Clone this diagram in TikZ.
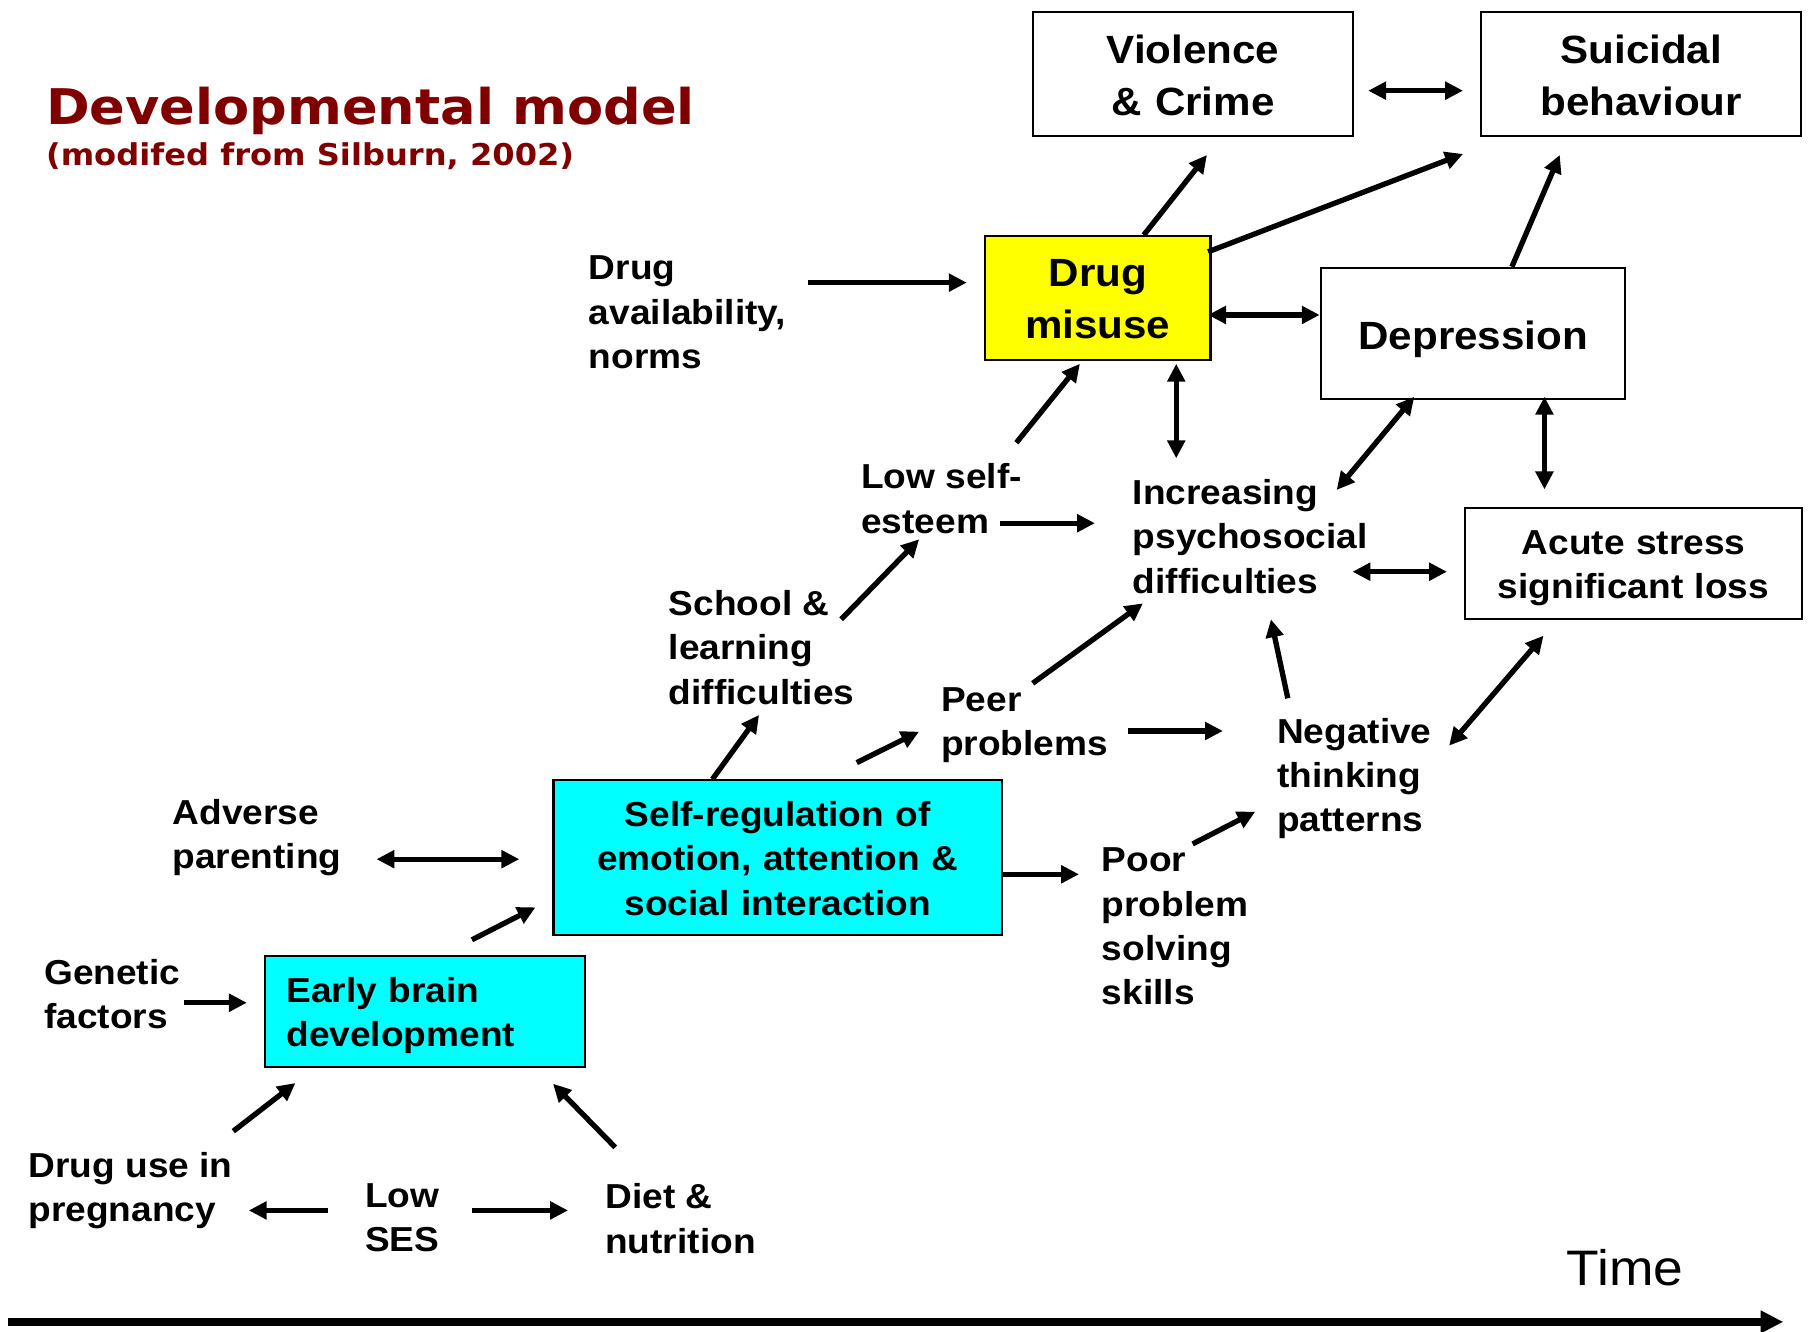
\documentclass[tikz,border=0pt]{standalone}
\usepackage{fontspec}
\usetikzlibrary{arrows.meta}

\newfontfamily\arialf{Liberation Sans}[FakeStretch=1.07]
\newfontfamily\verdf{DejaVu Sans}[FakeStretch=1.07]
\definecolor{titlered}{RGB}{128,0,0}
\definecolor{boxcyan}{RGB}{0,255,255}
\definecolor{boxyellow}{RGB}{255,255,0}

\newcommand\bodysize{\fontsize{30}{38.3}\selectfont}
\newcommand\bigsize{\fontsize{34.1}{45}\selectfont}
% invisible rules that fix the space above the first and below the last line of a box
\newcommand\boxtop[1]{\rule{0pt}{#1pt}}
\newcommand\boxbot[1]{\rule[-#1pt]{0pt}{0pt}}

\tikzset{
  lbl/.style={anchor=north west, inner sep=0pt, yshift=21.5pt, align=left,
    font=\arialf\bfseries\bodysize},
  framebox/.style={draw=black, line width=2pt, inner sep=0pt, anchor=north west, align=center},
  bigtext/.style={font=\arialf\bfseries\bigsize},
  smalltext/.style={font=\arialf\bfseries\bodysize},
  conn/.style={line width=4.6pt, -{Triangle[length=15.5pt,width=15pt]}},
  dconn/.style={line width=4.6pt, {Triangle[length=15.5pt,width=15pt]}-{Triangle[length=15.5pt,width=15pt]}},
}

\begin{document}
\begin{tikzpicture}[x=1pt,y=-1pt]
\useasboundingbox (0,0) rectangle (1568,1153);

% heading
\node[anchor=base west, inner sep=0pt, text=titlered,
  font=\verdf\bfseries\fontsize{42.6}{50}\selectfont] (title) at (39.7,107.4) {Developmental model};
\node[anchor=base west, inner sep=0pt, text=titlered,
  font=\verdf\bfseries\fontsize{26}{30}\selectfont] (subtitle) at (39.7,143.7) {(modifed from Silburn, 2002)};

% framed outcomes
\node[framebox, bigtext, text width=276.9pt] (viol) at (893.5,9.2)
  {\boxtop{45.1}Violence\\\& Crime\boxbot{17.6}};
\node[framebox, bigtext, text width=277pt] (suic) at (1281.5,9.2)
  {\boxtop{45.1}Suicidal\\behaviour\boxbot{17.6}};
\node[framebox, bigtext, fill=boxyellow, text width=195pt] (drug) at (852,203.5)
  {\boxtop{43.5}Drug\\misuse\boxbot{18.5}};
\node[framebox, bigtext, text width=263pt] (depr) at (1143,230.9)
  {\boxtop{70.5}Depression\boxbot{42.9}};
\node[framebox, smalltext, text width=291.3pt] (acute) at (1267.7,438.7)
  {\boxtop{40.3}Acute stress\\significant loss\boxbot{17.5}};
\node[framebox, smalltext, fill=boxcyan, text width=388.1pt] (selfreg) at (478.3,674.4)
  {\boxtop{40.3}Self-regulation of\\emotion, attention \&\\social interaction\boxbot{17.3}};
\node[framebox, smalltext, fill=boxcyan, align=left, text width=239.5pt, inner xsep=18.7pt] (early) at (228.3,826.5)
  {\boxtop{40.2}Early brain\\development\boxbot{17.8}};

% free-standing factors
\node[lbl] (avail)   at (509.7,243)    {Drug\\availability,\\norms};
\node[lbl] (lowse)   at (745.5,422.8)  {Low self-\\esteem};
\node[lbl] (incr)    at (980.6,436.5)  {Increasing\\psychosocial\\difficulties};
\node[lbl] (school)  at (578.9,532.5)  {School \&\\learning\\difficulties};
\node[lbl] (peer)    at (814.7,616.7)  {Peer\\problems};
\node[lbl] (neg)     at (1105.5,643)   {Negative\\thinking\\patterns};
\node[lbl] (poor)    at (953.8,755.6)  {Poor\\problem\\solving\\skills};
\node[lbl] (adverse) at (149.3,713.2)  {Adverse\\parenting};
\node[lbl] (genetic) at (38.1,851.8)   {Genetic\\factors};
\node[lbl] (druguse) at (24.6,1018.8)  {Drug use in\\pregnancy};
\node[lbl] (lowses)  at (316,1046.2)   {Low\\SES};
\node[lbl] (diet)    at (523.9,1046.2) {Diet \&\\nutrition};

\node[anchor=base west, inner sep=0pt, font=\arialf\fontsize{43.2}{48}\selectfont] (time) at (1356.5,1113) {Time};

% connector ends
\coordinate (viol-e)    at (1184.6,78.5);
\coordinate (suic-w)    at (1266.7,78.5);
\coordinate (drug-n)    at (990.3,203.5);
\coordinate (viol-s)    at (1045,134.2);
\coordinate (drug-ne)   at (1046,218);
\coordinate (suic-sw)   at (1266.7,133.3);
\coordinate (depr-n)    at (1309,231);
\coordinate (suic-s)    at (1350.5,134.2);
\coordinate (avail-e)   at (699.4,244.7);
\coordinate (drug-w)    at (837,244.7);
\coordinate (drug-e)    at (1046,272.7);
\coordinate (depr-w)    at (1142.6,272.7);
\coordinate (lowse-n)   at (880,383.3);
\coordinate (drug-sw)   at (935,315);
\coordinate (drug-s)    at (1018.4,315);
\coordinate (incr-n)    at (1018.4,396.8);
\coordinate (incr-ne)   at (1157.3,424.2);
\coordinate (depr-sw)   at (1224.5,343.5);
\coordinate (depr-s)    at (1337.2,343.5);
\coordinate (acute-n)   at (1337.2,423.7);
\coordinate (lowse-e)   at (866,453);
\coordinate (incr-w)    at (948,453);
\coordinate (incr-e)    at (1171,495);
\coordinate (acute-w)   at (1252.8,495);
\coordinate (school-ne) at (728.3,536.2);
\coordinate (lowse-s)   at (795.8,466.9);
\coordinate (peer-ne)   at (894.1,591.6);
\coordinate (incr-sw)   at (989.6,522.4);
\coordinate (neg-n)     at (1115,604.6);
\coordinate (incr-s)    at (1100.4,536.2);
\coordinate (neg-ne)    at (1254.7,645.6);
\coordinate (acute-sw)  at (1336.4,550.4);
\coordinate (peer-e)    at (976.8,632.9);
\coordinate (neg-w)     at (1058.8,632.9);
\coordinate (selfreg-n) at (616.8,674.7);
\coordinate (school-s)  at (657.2,619);
\coordinate (selfreg-ne) at (741.8,660.3);
\coordinate (peer-w)    at (795.7,633.5);
\coordinate (selfreg-e) at (866.4,757);
\coordinate (poor-w)    at (934.2,757);
\coordinate (poor-ne)   at (1032.6,730.7);
\coordinate (neg-sw)    at (1086.8,702.8);
\coordinate (adverse-e) at (326,743.9);
\coordinate (selfreg-w) at (449.6,743.9);
\coordinate (early-ne)  at (408.6,813.7);
\coordinate (selfreg-sw) at (463.6,785.6);
\coordinate (genetic-e) at (159.3,868.2);
\coordinate (early-w)   at (213.7,868.2);
\coordinate (druguse-n) at (202,979.4);
\coordinate (early-sw)  at (255.8,937.7);
\coordinate (diet-n)    at (532.7,993.4);
\coordinate (early-se)  at (478.8,938.3);
\coordinate (lowses-w)  at (284,1048);
\coordinate (druguse-e) at (215.4,1048);
\coordinate (lowses-e)  at (408.6,1048);
\coordinate (diet-w)    at (491.8,1048);
\coordinate (axis-start) at (7.2,1144.5);
\coordinate (axis-end)   at (1544,1144.5);

% connectors
\draw[dconn] (viol-e) -- (suic-w);
\draw[conn]  (drug-n) -- (viol-s);
\draw[conn]  (drug-ne) -- (suic-sw);
\draw[conn]  (depr-n) -- (suic-s);
\draw[conn]  (avail-e) -- (drug-w);
\draw[dconn] (drug-e) -- (depr-w);
\draw[conn]  (lowse-n) -- (drug-sw);
\draw[dconn] (drug-s) -- (incr-n);
\draw[dconn] (incr-ne) -- (depr-sw);
\draw[dconn] (depr-s) -- (acute-n);
\draw[conn]  (lowse-e) -- (incr-w);
\draw[dconn] (incr-e) -- (acute-w);
\draw[conn]  (school-ne) -- (lowse-s);
\draw[conn]  (peer-ne) -- (incr-sw);
\draw[conn]  (neg-n) -- (incr-s);
\draw[dconn] (neg-ne) -- (acute-sw);
\draw[conn]  (peer-e) -- (neg-w);
\draw[conn]  (selfreg-n) -- (school-s);
\draw[conn]  (selfreg-ne) -- (peer-w);
\draw[conn]  (selfreg-e) -- (poor-w);
\draw[conn]  (poor-ne) -- (neg-sw);
\draw[dconn] (adverse-e) -- (selfreg-w);
\draw[conn]  (early-ne) -- (selfreg-sw);
\draw[conn]  (genetic-e) -- (early-w);
\draw[conn]  (druguse-n) -- (early-sw);
\draw[conn]  (diet-n) -- (early-se);
\draw[conn]  (lowses-w) -- (druguse-e);
\draw[conn]  (lowses-e) -- (diet-w);

% time axis
\draw[line width=6.4pt, -{Triangle[length=19.6pt,width=18.5pt]}] (axis-start) -- (axis-end);
\end{tikzpicture}
\end{document}
